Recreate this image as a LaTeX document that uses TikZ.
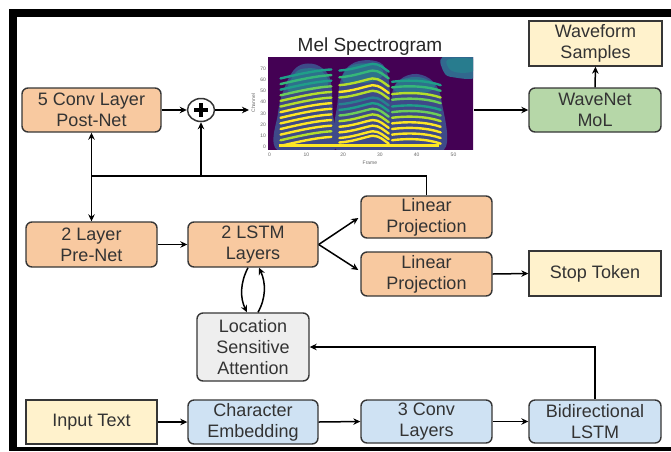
\documentclass[tikz,border=0pt]{standalone}
\usepackage{fontspec}
\setmainfont{Liberation Sans}
\usetikzlibrary{arrows.meta,shapes.geometric}
\definecolor{borderc}{HTML}{363636}
\definecolor{txtc}{HTML}{333333}
\definecolor{orangef}{HTML}{F8C9A0}
\definecolor{greenf}{HTML}{B6D7A8}
\definecolor{bluef}{HTML}{CFE2F3}
\definecolor{yellowf}{HTML}{FFF2CC}
\definecolor{greyf}{HTML}{EEEEEE}
\definecolor{v0}{HTML}{440154}
\definecolor{v1}{HTML}{482878}
\definecolor{v2}{HTML}{3E4A89}
\definecolor{v3}{HTML}{31688E}
\definecolor{v4}{HTML}{26828E}
\definecolor{v5}{HTML}{1F9E89}
\definecolor{v6}{HTML}{35B779}
\definecolor{v7}{HTML}{6DCD59}
\definecolor{v8}{HTML}{B4DE2C}
\definecolor{v9}{HTML}{FDE725}
\newcommand{\boxfont}{\fontsize{18}{21}\selectfont}
\newcommand{\tickfont}{\fontsize{5}{6}\selectfont}
\begin{document}
\begin{tikzpicture}[x=1pt,y=-1pt,
  basebox/.style={draw=borderc, line width=1.4pt, text=txtc, font=\boxfont, align=center, inner sep=0pt},
  rbox/.style={basebox, rounded corners=6pt},
  sbox/.style={basebox, fill=yellowf},
  arr/.style={-{Stealth[length=7pt,width=6.5pt]}, line width=1.5pt, black},
  darr/.style={{Stealth[length=7pt,width=6.5pt]}-{Stealth[length=7pt,width=6.5pt]}, line width=1.5pt, black},
  plain/.style={line width=1.5pt, black},
  band/.style={line width=2.4pt, line cap=round}]
\useasboundingbox (0,0) rectangle (671,451);
% frame
\fill[black] (9,9) rectangle (17,451);
\fill[black] (9,9) rectangle (671,17);
\fill[black] (9,447) rectangle (671,451);

% nodes
\node[rbox, fill=orangef, minimum width=139pt, minimum height=44pt] (postnet) at (91.5,110) {5 Conv Layer\\Post-Net};
\node[rbox, fill=orangef, minimum width=131pt, minimum height=45pt] (prenet) at (91.5,244.5) {2 Layer\\Pre-Net};
\node[rbox, fill=orangef, minimum width=130pt, minimum height=45pt] (lstm) at (253,244.5) {2 LSTM\\Layers};
\node[rbox, fill=orangef, minimum width=131pt, minimum height=42pt] (lp1) at (426.5,217) {Linear\\Projection};
\node[rbox, fill=orangef, minimum width=131pt, minimum height=44pt] (lp2) at (426.5,274) {Linear\\Projection};
\node[sbox, minimum width=132pt, minimum height=45pt] (stop) at (595,273.5) {Stop Token};
\node[rbox, fill=greenf, minimum width=132pt, minimum height=44pt] (wavenet) at (595,110) {WaveNet\\MoL};
\node[sbox, minimum width=133pt, minimum height=45pt] (waveform) at (595.5,43.5) {Waveform\\Samples};
\node[rbox, fill=greyf, minimum width=112pt, minimum height=68pt] (att) at (253,347) {Location\\Sensitive\\Attention};
\node[sbox, minimum width=131pt, minimum height=44pt] (input) at (91.5,422) {Input Text};
\node[rbox, fill=bluef, minimum width=130pt, minimum height=44pt] (charemb) at (253,422) {Character\\Embedding};
\node[rbox, fill=bluef, minimum width=131pt, minimum height=43pt] (conv3) at (426.5,421.5) {3 Conv\\Layers};
\node[rbox, fill=bluef, minimum width=132pt, minimum height=43pt] (bilstm) at (595,421.5) {Bidirectional\\LSTM};
\node[ellipse, draw=borderc, line width=1.5pt, fill=white, minimum width=27pt, minimum height=23pt, inner sep=0pt] (plus) at (201,110) {};
\fill[black] (194,107.6) rectangle (208,112.4);
\fill[black] (198.6,103) rectangle (203.4,117);

% spectrogram
\node[font=\fontsize{19}{22}\selectfont, text=black!85] (title) at (370,47) {Mel Spectrogram};
\coordinate (specin) at (249,110);
\coordinate (specout) at (474,110);
\begin{scope}[shift={(269.5,147)}, x=3.68pt, y=1.124pt]
 \begin{scope}
 \clip (-0.4,-1.8) rectangle (55.3,79.3);
 \fill[v0] (-1,-3) rectangle (56,80);
 % syllable envelopes
 \fill[v2] plot[smooth cycle, tension=0.6] coordinates {(2.2,-3) (2.3,30) (4,52) (6.5,68) (9.5,74) (13.5,72) (16.5,60) (17.2,30) (17.5,-3)};
 \fill[v2] plot[smooth cycle, tension=0.6] coordinates {(18.3,-3) (18.5,40) (19.8,64) (23,75) (28,77) (31.5,70) (32.8,45) (32.8,-3)};
 \fill[v2] plot[smooth cycle, tension=0.6] coordinates {(33,-3) (33.2,45) (35.5,60) (40,65) (44.5,58) (46.8,40) (47.3,-3)};
 \fill[v3] plot[smooth cycle, tension=0.6] coordinates {(47,80) (47.5,66) (50,62) (56,62) (56,80)};
 \fill[v4, opacity=0.8] plot[smooth cycle, tension=0.6] coordinates {(48.5,78) (49,69) (52,66) (55.5,68) (55.5,78)};
 \fill[v4, opacity=0.7] plot[smooth cycle, tension=0.6] coordinates {(5,50) (7,66) (10,70) (14,68) (16,56) (11,50)};
 \fill[v4, opacity=0.7] plot[smooth cycle, tension=0.6] coordinates {(20,58) (22,72) (28,74) (31,66) (28,58)};
 \fill[v4, opacity=0.7] plot[smooth cycle, tension=0.6] coordinates {(34,50) (36,60) (41,62) (45,55) (42,48)};
 % syllable 1
 \foreach \c/\col in {67/v5, 62/v6, 57/v5, 52/v7, 47/v8, 42/v8, 37/v9, 32/v9, 27/v9, 22/v9, 17/v9, 12/v8, 7/v9}
   \draw[\col, band] (3,{\c-6}) .. controls (7,{\c-3}) and (12,{\c+1}) .. (16.8,{\c+2});
 % syllable 2
 \foreach \c/\col in {68/v5, 62/v6, 55/v8, 49/v9, 44/v8, 38/v4, 33/v5, 28/v7, 23/v8, 18/v9, 13/v9, 8/v9, 4/v9}
   \draw[\col, band] (19,\c) .. controls (23,{\c+1}) and (26,{\c+5}) .. (28,{\c+6}) .. controls (30,{\c+6}) and (31,{\c+2}) .. (32.4,{\c-1});
 % syllable 3
 \foreach \c/\col in {58/v5, 53/v6, 47/v8, 42/v7, 36/v5, 31/v7, 26/v8, 21/v9, 16/v9, 11/v9, 6/v9}
   \draw[\col, band] (33.3,\c) .. controls (38,{\c+2}) and (43,{\c+1}) .. (46.5,{\c-3});
 \draw[v9, line width=2.6pt] (2.5,1.2) -- (46,1.2);
 \end{scope}
 \foreach \c in {0,10,...,70}
   \node[anchor=east, font=\tickfont, text=black!60, inner sep=0pt] at (-0.9,\c) {\c};
 \foreach \f in {0,10,...,50}
   \node[font=\tickfont, text=black!60, inner sep=0pt] at (\f,-7.2) {\f};
 \node[rotate=90, font=\tickfont, text=black!60, inner sep=0pt] at (-4.4,39) {Channel};
 \node[font=\tickfont, text=black!60, inner sep=0pt] at (27.3,-14.2) {Frame};
\end{scope}

% connectors
\coordinate (j1) at (91.5,176);
\draw[arr] (postnet.east) -- (plus.west);
\draw[arr] (plus.east) -- (specin);
\draw[arr] (specout) -- (wavenet.west);
\draw[arr] (wavenet.north) -- (waveform.south);
\draw[darr] (postnet.south) -- (prenet.north);
\draw[plain] (lp1.north) |- (j1);
\draw[arr] (plus.south |- j1) -- (plus.south);
\draw[arr] (prenet.east) -- (lstm.west);
\draw[arr] (lstm.east) -- ([xshift=-2pt,yshift=-1pt]lp1.west);
\draw[arr] (lstm.east) -- ([xshift=-2pt,yshift=4pt]lp2.west);
\draw[arr] (lp2.east) -- (stop.west);
\draw[arr] ([xshift=-5pt]lstm.south) .. controls (240,283) and (240,298) .. ([xshift=-6pt]att.north);
\draw[arr] ([xshift=5pt]att.north) .. controls (266,298) and (266,283) .. ([xshift=6pt]lstm.south);
\draw[arr] (input.east) -- (charemb.west);
\draw[arr] (charemb.east) -- (conv3.west);
\draw[arr] (conv3.east) -- (bilstm.west);
\draw[arr] (bilstm.north) |- (att.east);
\end{tikzpicture}
\end{document}
